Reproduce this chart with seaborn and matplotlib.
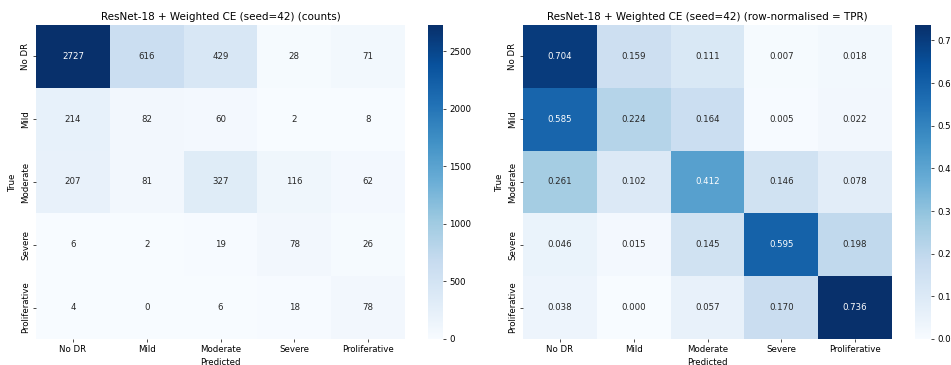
import matplotlib
matplotlib.use("Agg")
import matplotlib.pyplot as plt
import seaborn as sns
import numpy as np

classes = ["No DR", "Mild", "Moderate", "Severe", "Proliferative"]
counts = [
    [2727, 616, 429, 28, 71],
    [214, 82, 60, 2, 8],
    [207, 81, 327, 116, 62],
    [6, 2, 19, 78, 26],
    [4, 0, 6, 18, 78],
]
tpr = [
    [0.704, 0.159, 0.111, 0.007, 0.018],
    [0.585, 0.224, 0.164, 0.005, 0.022],
    [0.261, 0.102, 0.412, 0.146, 0.078],
    [0.046, 0.015, 0.145, 0.595, 0.198],
    [0.038, 0.000, 0.057, 0.170, 0.736],
]
title_counts = "ResNet-18 + Weighted CE (seed=42) (counts)"
title_tpr = "ResNet-18 + Weighted CE (seed=42) (row-normalised = TPR)"

W, H = 951, 365
DPI = 62.3
fig = plt.figure(figsize=(W / DPI, H / DPI), dpi=DPI)

def px(x0, x1, y0, y1):
    return [x0 / W, 1 - y1 / H, (x1 - x0) / W, (y1 - y0) / H]

ax1 = fig.add_axes(px(36, 405, 25, 339))
cax1 = fig.add_axes(px(428, 443, 25, 339))
ax2 = fig.add_axes(px(523, 892, 25, 339))
cax2 = fig.add_axes(px(915, 931, 25, 339))

sns.heatmap(np.array(counts), annot=True, fmt="d", cmap="Blues",
            xticklabels=classes, yticklabels=classes, ax=ax1, cbar_ax=cax1)
ax1.set_title(title_counts)
ax1.set_xlabel("Predicted")
ax1.set_ylabel("True")

sns.heatmap(np.array(tpr), annot=True, fmt=".3f", cmap="Blues",
            xticklabels=classes, yticklabels=classes, ax=ax2, cbar_ax=cax2)
ax2.set_title(title_tpr)
ax2.set_xlabel("Predicted")
ax2.set_ylabel("True")

fig.savefig("out.png", dpi=DPI)
